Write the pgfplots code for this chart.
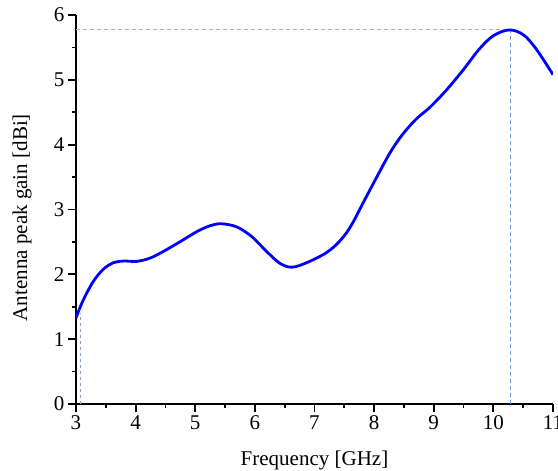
\documentclass[border=0pt]{standalone}
\usepackage{fontspec}
\setmainfont{Liberation Serif}
\usepackage{pgfplots}
\pgfplotsset{compat=1.18}
\definecolor{curveblue}{RGB}{0,0,255}
\definecolor{dashblue}{RGB}{150,182,228}
\definecolor{dashblue2}{RGB}{110,160,222}
\definecolor{dashgrey}{RGB}{140,160,190}
\begin{document}
\begin{tikzpicture}
\begin{axis}[
  scale only axis, width=477pt, height=389pt,
  xmin=3, xmax=11, ymin=0, ymax=6,
  axis lines=left,
  axis line style={-, line width=1.8pt, black},
  tick style={line width=1.8pt, black},
  major tick length=8pt, minor tick length=4pt,
  tick align=outside,
  xtick={3,4,5,6,7,8,9,10,11},
  ytick={0,1,2,3,4,5,6},
  minor x tick num=1, minor y tick num=1,
  /pgf/number format/assume math mode=true,
  tick label style={font=\fontsize{21}{25}\selectfont},
  label style={font=\fontsize{21}{25}\selectfont},
  xlabel={Frequency [GHz]},
  ylabel={Antenna peak gain [dBi]},
  xlabel style={at={(axis description cs:0.5,0)}, anchor=base, yshift=-62pt},
  ylabel style={at={(axis description cs:-0.113,0.479)}, anchor=center, rotate=0},
  clip=true,
]
\coordinate (O) at (rel axis cs:0,0);
\addplot[dashblue, line width=1pt, dash pattern=on 4pt off 3pt] coordinates {(3,5.77) (10.28,5.77)};
\addplot[dashblue2, line width=1pt, dash pattern=on 4pt off 3pt] coordinates {(10.28,0) (10.28,5.77)};
\addplot[dashgrey, line width=0.8pt, dash pattern=on 3pt off 3pt] coordinates {(3.08,0) (3.08,1.40)};
\addplot[curveblue, line width=2.8pt, smooth, tension=0.55] coordinates {
(3.00,1.33) (3.12,1.60) (3.29,1.89) (3.46,2.08) (3.63,2.18) (3.80,2.205)
(4.02,2.20) (4.24,2.25) (4.46,2.35) (4.74,2.50) (5.03,2.66) (5.25,2.75)
(5.44,2.78) (5.70,2.73) (5.95,2.58) (6.20,2.35) (6.42,2.17) (6.62,2.11)
(6.87,2.18) (7.21,2.34) (7.45,2.54) (7.62,2.76) (7.82,3.11) (8.05,3.51)
(8.27,3.88) (8.47,4.15) (8.70,4.39) (8.94,4.58) (9.22,4.85) (9.50,5.16)
(9.76,5.47) (10.00,5.68) (10.27,5.77) (10.51,5.69) (10.73,5.46) (11.00,5.08)
};
\end{axis}
\pgfresetboundingbox
\path[use as bounding box] ([shift={(-76pt,-67pt)}]O) rectangle ([shift={(482pt,404pt)}]O);
\end{tikzpicture}
\end{document}
